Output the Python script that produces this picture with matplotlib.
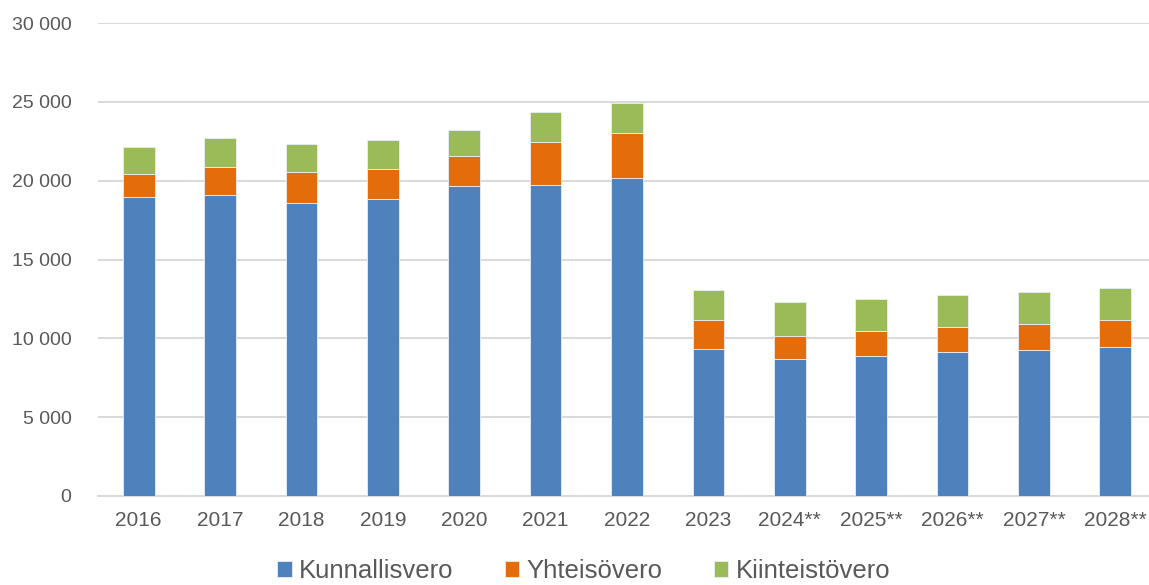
import matplotlib
matplotlib.use("Agg")
import matplotlib.pyplot as plt
import matplotlib.ticker as mticker
import numpy as np

plt.rcParams["font.family"] = ["Liberation Sans", "DejaVu Sans"]

years = ["2016", "2017", "2018", "2019", "2020", "2021", "2022",
         "2023", "2024**", "2025**", "2026**", "2027**", "2028**"]
kunnallisvero = [18940, 19070, 18600, 18840, 19640, 19730, 20190,
                 9330, 8680, 8890, 9120, 9230, 9440]
yhteisovero = [1510, 1800, 1930, 1900, 1910, 2730, 2840,
               1820, 1440, 1590, 1590, 1710, 1710]
kiinteistovero = [1670, 1820, 1800, 1820, 1690, 1900, 1900,
                  1910, 2160, 2010, 2030, 2010, 2020]

series = [
    ("Kunnallisvero", kunnallisvero, "#4F81BD"),
    ("Yhteisövero", yhteisovero, "#E46C0A"),
    ("Kiinteistövero", kiinteistovero, "#9BBB59"),
]

fig = plt.figure(figsize=(11.49, 5.85), dpi=100)
ax = fig.add_axes([98 / 1149, 89 / 585, 1058 / 1149, 473 / 585])

x = np.arange(len(years))
bottom = np.zeros(len(years))
for name, vals, color in series:
    ax.bar(x, vals, width=0.39, bottom=bottom, color=color, label=name,
           edgecolor="#E8EEF6", linewidth=0.6, zorder=3)
    bottom += np.array(vals)

ax.set_xlim(-0.5, len(years) - 0.5)
ax.set_ylim(0, 30000)
ax.set_yticks(np.arange(0, 30001, 5000))
ax.yaxis.set_major_formatter(
    mticker.FuncFormatter(lambda v, p: f"{int(v):,}".replace(",", " ")))
ax.set_xticks(x)
ax.set_xticklabels(years)

ax.grid(axis="y", color="#D9D9D9", linewidth=1.4, zorder=0)
for s in ["top", "right", "left"]:
    ax.spines[s].set_visible(False)
ax.spines["bottom"].set_color("#D9D9D9")
ax.spines["bottom"].set_linewidth(1.4)
ax.tick_params(axis="y", length=0, pad=19, labelsize=14, labelcolor="#595959")
ax.tick_params(axis="x", length=0, pad=11, labelsize=15, labelcolor="#595959")

handles, labels = ax.get_legend_handles_labels()
fig.legend(handles, labels, loc="center", bbox_to_anchor=(0.508, 0.024),
           ncol=3, frameon=False, fontsize=18.5, labelcolor="#595959",
           handlelength=0.56, handleheight=0.56, handletextpad=0.28,
           columnspacing=2.0, borderpad=0)

fig.savefig("out.png", dpi=100)
